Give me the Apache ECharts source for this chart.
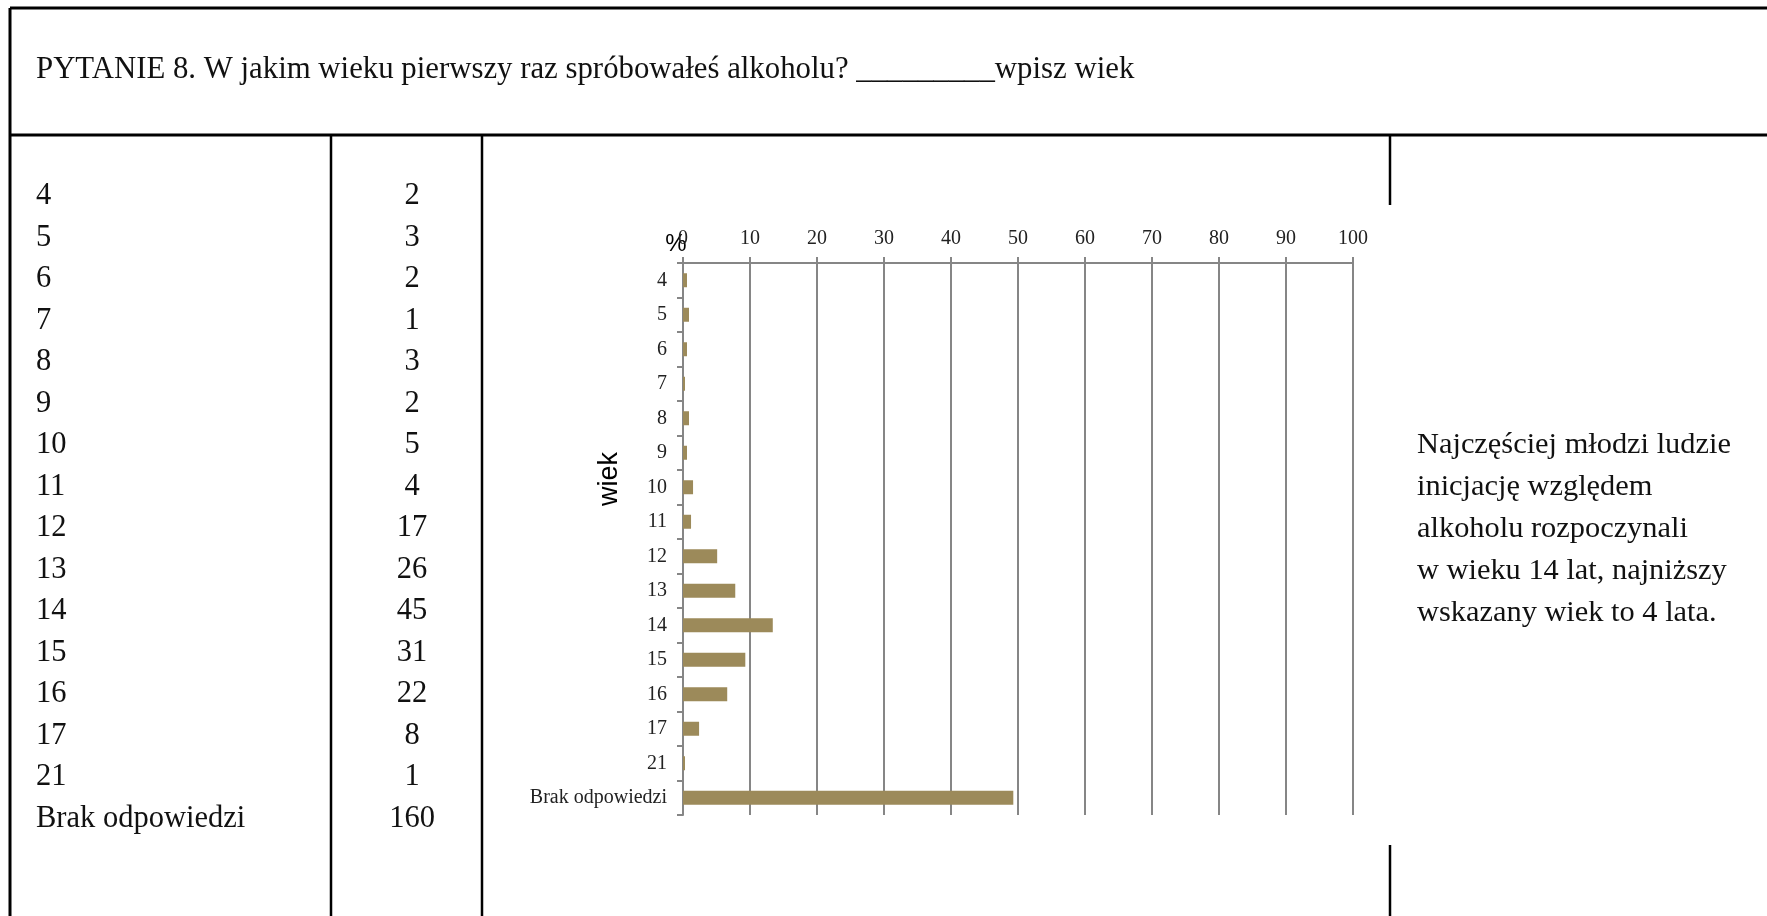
<!DOCTYPE html>
<html><head><meta charset="utf-8">
<script src="https://cdn.jsdelivr.net/npm/echarts/dist/echarts.min.js"></script>
<style>html,body{margin:0;padding:0;background:#fff}#c{width:1767px;height:916px}</style>
</head><body><div id="c"></div>
<script>
// ---- data ----
const categories = ['4','5','6','7','8','9','10','11','12','13','14','15','16','17','21','Brak odpowiedzi'];
const counts = [2,3,2,1,3,2,5,4,17,26,45,31,22,8,1,160];
const percents = [0.6,0.9,0.6,0.3,0.9,0.6,1.5,1.2,5.1,7.8,13.4,9.3,6.6,2.4,0.3,49.3];
const titleText = 'PYTANIE 8. W jakim wieku pierwszy raz spróbowałeś alkoholu? _________wpisz wiek';
const commentLines = ['Najczęściej młodzi ludzie','inicjację względem','alkoholu rozpoczynali','w wieku 14 lat, najniższy','wskazany wiek to 4 lata.'];
const xAxisName = '%';
const yAxisName = 'wiek';

// ---- layout ----
const SERIF = '"Liberation Serif", "DejaVu Serif", serif';
const SANS = '"Liberation Sans", "DejaVu Sans", sans-serif';
const gray = '#868686';
const graphics = [];
function line(x1,y1,x2,y2,w){graphics.push({type:'line',silent:true,shape:{x1,y1,x2,y2},style:{stroke:'#000',lineWidth:w}});}
function text(t,x,y,size,opts){graphics.push(Object.assign({type:'text',silent:true,x,y,style:Object.assign({text:t,fontSize:size,fontFamily:SERIF,fill:'#111',align:'left',verticalAlign:'middle'},opts&&opts.style||{})},opts&&opts.el||{}));}

// table borders
line(10,8,1767,8,3);
line(10,8,10,916,3);
line(10,135,1767,135,3);
line(331,135,331,916,2.5);
line(482,135,482,916,2.5);
line(1390,135,1390,205,2.5);
line(1390,845,1390,916,2.5);

text(titleText,36,70,30.8);
const rowTop = 196, rowStep = 41.5;
categories.forEach((c,i)=>{
  text(c,36,rowTop+i*rowStep,30.5);
  text(String(counts[i]),412,rowTop+i*rowStep,30.5,{style:{align:'center'}});
});
commentLines.forEach((l,i)=>text(l,1417,445+i*42,30.4));
text(xAxisName,676,244,24,{style:{fontFamily:SANS,align:'center',fill:'#000'}});
text(yAxisName,610,479,27,{style:{fontFamily:SANS,align:'center',fill:'#000'},el:{rotation:Math.PI/2}});

const chart = echarts.init(document.getElementById('c'));
chart.setOption({
  animation:false,
  backgroundColor:'#fff',
  grid:{left:683,top:263,width:670,height:552},
  xAxis:{type:'value',position:'top',min:0,max:100,interval:10,
    axisLine:{show:true,lineStyle:{color:gray,width:2}},
    axisTick:{show:true,length:6,lineStyle:{color:gray,width:2}},
    axisLabel:{fontSize:20,fontFamily:SERIF,color:'#222',margin:14},
    splitLine:{show:true,lineStyle:{color:gray,width:2}}},
  yAxis:{type:'category',data:categories,inverse:true,
    axisLine:{show:true,lineStyle:{color:gray,width:2}},
    axisTick:{show:true,length:6,lineStyle:{color:gray,width:2}},
    axisLabel:{fontSize:20,fontFamily:SERIF,color:'#222',margin:16},
    splitLine:{show:false}},
  series:[{type:'bar',data:percents,barWidth:14,itemStyle:{color:'#9C8A5A'}}],
  graphic:graphics
});
</script></body></html>
